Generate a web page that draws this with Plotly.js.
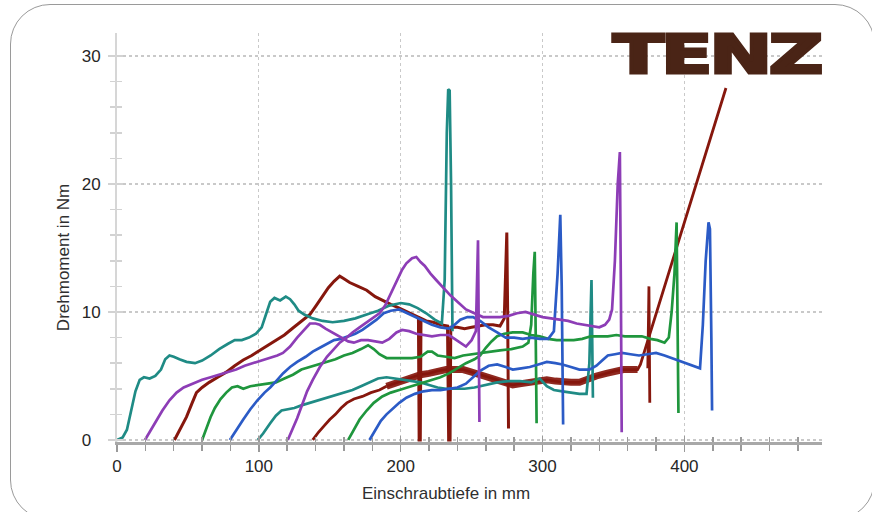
<!DOCTYPE html>
<html>
<head>
<meta charset="utf-8">
<script src="https://cdn.plot.ly/plotly-3.0.1.min.js"></script>
<style>
html,body{margin:0;padding:0;background:#fff;overflow:hidden;width:872px;height:512px;}
#chart{position:absolute;left:0;top:0;width:872px;height:512px;}
#frame{position:absolute;left:10px;top:4px;width:863px;height:514px;border:1.5px solid #9a9a9a;border-radius:40px;pointer-events:none;}
#logo{position:absolute;left:613px;top:28px;font-family:"DejaVu Sans";font-weight:bold;font-size:53px;line-height:53px;color:#4a2416;-webkit-text-stroke:3px #4a2416;transform:scaleX(1.41);transform-origin:0 0;letter-spacing:-2px;white-space:nowrap;}
</style>
</head>
<body>
<div id="chart"></div>
<div id="frame"></div>
<div id="logo">TENZ</div>
<script>
// Einschraubtiefe (mm) / Drehmoment (Nm)
const teal1_x = [0,4,7,10,13,16,19,23,27,31,34,37,40,44,49,55,60,66,72,78,83,88,93,98,102,105,108,111,115,119,122,125,128,132,138,145,152,160,168,176,184,192,200,206,212,218,224,229,231,232.5,233.5,234.5,235.5,236.5];
const teal1_y = [0,0.2,0.8,2.2,3.8,4.7,4.9,4.8,5.0,5.5,6.3,6.6,6.5,6.3,6.1,6.0,6.2,6.6,7.1,7.5,7.8,7.8,8.0,8.3,8.8,9.8,10.8,11.1,10.9,11.2,11.0,10.6,10.1,9.8,9.5,9.3,9.2,9.3,9.5,9.8,10.1,10.5,10.7,10.6,10.3,9.9,9.4,9.1,12.5,24,27.4,27.3,20,8.5];

const purple1_x = [19.7,24,28,32,37,42,47,53,60,66,72,78,84,90,96,102,108,113,117,122,127,132,136,140,143,147,152,158,163,167,172,177,182,187,192,197,201,206,211,217,222,228,234,238,242,246,250,253,254.5,255.5];
const purple1_y = [0,0.8,1.6,2.3,3.1,3.7,4.1,4.4,4.7,4.9,5.1,5.3,5.5,5.8,6.0,6.2,6.4,6.6,6.8,7.3,8.0,8.6,9.1,9.1,9.0,8.7,8.4,8.0,7.7,7.6,7.8,7.8,7.7,7.6,7.9,8.4,8.6,8.5,8.3,8.2,8.1,8.2,8.2,7.9,7.6,7.3,7.8,8.5,15.6,1.4];

const red1_x = [40.5,44,49,53,56,60,65,71,77,83,89,95,101,107,113,118,124,130,136,141,145,149,153,157,160,164,170,176,182,187,193,199,205,209,212.5,213,213.8,214.3,218,223,228,233,233.8,234.8,235.3,240,245,250,255,260,265,270,273,274.2,274.8,275.4,276];
const red1_y = [0,0.7,1.8,2.9,3.7,4.1,4.5,4.9,5.3,5.8,6.25,6.6,7.0,7.4,7.8,8.2,8.75,9.3,9.8,10.6,11.3,11.9,12.4,12.8,12.6,12.3,12.0,11.7,11.2,10.9,10.6,10.3,10.0,9.8,9.6,0,0,9.5,9.3,9.2,9.0,8.9,0,0,8.8,8.8,8.7,8.8,8.9,9.0,9.0,8.9,9.5,14,16.2,10,0.9];

const green1_x = [60,63,66,69,73,77,81,85,89,94,100,106,112,118,124,130,136,142,148,154,160,166,172,177,181,185,190,196,202,208,214,219,222,226,232,238,244,250,256,262,270,278,286,290,292,293.5,294.5,295.2,295.8];
const green1_y = [0,0.9,1.8,2.5,3.2,3.7,4.1,4.2,4.0,4.2,4.3,4.4,4.5,4.8,5.1,5.5,5.7,5.9,6.1,6.3,6.6,6.8,7.1,7.4,7.1,6.7,6.4,6.4,6.4,6.4,6.5,6.9,6.9,6.6,6.5,6.4,6.6,6.7,6.8,6.9,7.0,7.1,7.3,7.6,9,13,14.7,8,1.3];

const blue1_x = [79.6,84,89,94,99,104,108,113,117,122,127,133,138,143,148,153,158,163,168,173,178,183,188,193,199,205,211,217,222,228,234,238,242,247,251,256,262,268,274,280,286,292,298,304,308,310.6,312.5,313.5,314.5];
const blue1_y = [0,0.8,1.6,2.4,3.1,3.7,4.1,4.7,5.2,5.7,6.1,6.5,6.9,7.2,7.5,7.8,7.9,8.1,8.3,8.6,9.0,9.4,9.9,10.1,10.2,9.9,9.6,9.3,9.0,8.8,8.7,9.0,9.4,9.6,9.6,9.3,8.8,8.4,8.0,8.0,7.9,8.0,7.9,7.9,8.5,13,17.6,12,1.2];

const teal2_x = [99.3,103,108,112,116,120,125,130,136,142,148,154,160,166,172,178,184,190,196,202,208,214,220,226,232,238,245,252,260,268,276,284,292,298,303,308,314,320,326,331,333,334.5,335.5];
const teal2_y = [0,0.5,1.3,1.9,2.3,2.4,2.5,2.7,2.9,3.1,3.3,3.5,3.7,3.9,4.2,4.5,4.8,4.9,4.8,4.7,4.6,4.5,4.3,4.1,4.0,4.0,4.0,4.1,4.3,4.5,4.6,4.6,4.5,4.8,4.2,3.9,3.8,3.7,3.6,3.6,6,12.5,3.3];

const purple2_x = [120.4,124,127,130,134,138,143,148,153,157,162,166,171,176,181,185,189,192,195,198,201,204,208,211,214,217,221,225,230,235,240,246,252,258,264,270,276,282,288,294,300,306,312,318,324,330,336,340,344,347,349,351,353,354.5,355.2,355.8];
const purple2_y = [0,0.9,1.7,2.6,3.8,4.7,5.7,6.5,7.1,7.6,8.0,8.4,8.8,9.2,9.6,9.9,10.5,11.2,12.0,12.7,13.3,13.8,14.2,14.3,13.9,13.6,13.0,12.5,11.9,11.3,10.8,10.2,9.9,9.6,9.6,9.6,9.7,9.9,10.0,9.8,9.6,9.5,9.4,9.3,9.1,9.0,8.9,8.8,9.0,9.4,10.2,14,20,22.5,12,0.6];

const red2_x = [138,142,146,150,154,158,162,167,173,179,185,190,null,374.2,375.0,375.6];
const red2_y = [0,0.6,1.1,1.6,2.0,2.5,2.9,3.2,3.4,3.7,3.9,4.2,null,5.6,12.0,2.9];
const red2band_x = [190,197,203,208,214,220,226,232,238,244,250,256,262,268,274,279,285,291,297,303,309,314,320,326,332,338,345,351,357,363,367,369,429.3];
const red2band_y = [4.2,4.5,4.7,4.9,5.1,5.2,5.4,5.5,5.5,5.5,5.3,5.1,4.9,4.7,4.4,4.3,4.4,4.5,4.6,4.7,4.6,4.5,4.5,4.5,4.8,5.0,5.2,5.4,5.5,5.5,5.5,5.9,27.5];

const green2_x = [163,167,171,176,181,187,193,199,205,211,217,222.5,228,234,240,246,252,256,260,264,268,273,279,286,292,298,304,310,316,322,328,334,340,346,352,358,364,370,376,381,386,389,391,393,394.5,395.2,395.8];
const green2_y = [0,0.8,1.6,2.3,2.9,3.4,3.7,3.9,4.1,4.3,4.5,4.7,4.9,5.2,5.6,6.0,6.3,6.6,7.2,7.7,8.1,8.3,8.4,8.4,8.2,8.1,7.9,7.8,7.8,7.8,7.9,8.1,8.1,8.1,8.2,8.1,8.1,8.1,7.9,7.8,7.6,8.0,10,13,17.0,9,2.1];

const blue2_x = [178,182,186,190,194,199,204,210,216,222,228,234,240,246,251,256,262,268,274,279,285,291,297,303,309,314,320,326,333,338,342,346,351,356,362,368,374,380,386,391,397,403,408,411,413,415,417,418,419,419.5];
const blue2_y = [0,0.8,1.5,2.0,2.4,2.9,3.3,3.6,3.8,3.9,3.9,4.0,4.1,4.4,4.9,5.4,5.8,5.9,5.7,5.5,5.6,5.7,5.9,6.1,6.0,5.9,5.7,5.5,5.5,5.8,6.2,6.6,6.7,6.8,6.7,6.6,6.7,6.8,6.6,6.4,6.2,5.9,5.7,5.6,9,14,17.0,16.5,8,2.3];

const xTickVals = [0,100,200,300,400];
const xTickText = ['0','100','200','300','400'];
const yTickVals = [0,10,20,30];
const yTickText = ['0\u2007','10','20','30'];
const xTitle = 'Einschraubtiefe in mm';
const yTitle = 'Drehmoment in Nm';

const C = {teal:'#1f8b85', purple:'#8d3db6', red:'#86170d', green:'#1f963d', blue:'#2b5bc6'};
function tr(x, y, color, w){
  return {x:x, y:y, type:'scatter', mode:'lines', line:{color:color, width:w||2.7}, connectgaps:false, hoverinfo:'skip'};
}
const data = [
  tr(red2band_x, red2band_y, C.red, 2.8),
  Object.assign(tr(red2band_x.slice(0, 31), red2band_y.slice(0, 31), C.red, 7), {opacity:0.92}),
  tr(red2_x, red2_y, C.red, 2.8),
  tr(red1_x, red1_y, C.red, 3),
  tr(teal1_x, teal1_y, C.teal),
  tr(teal2_x, teal2_y, C.teal),
  tr(green1_x, green1_y, C.green),
  tr(green2_x, green2_y, C.green),
  tr(blue1_x, blue1_y, C.blue),
  tr(blue2_x, blue2_y, C.blue),
  tr(purple1_x, purple1_y, C.purple),
  tr(purple2_x, purple2_y, C.purple),
  {x:[], y:[], xaxis:'x2', yaxis:'y2', type:'scatter', mode:'lines', hoverinfo:'skip'}
];
const fontTick = {family:'"Liberation Sans", Arial, sans-serif', size:17, color:'#262626'};
const xr = [0, 497], yr = [-0.16, 31.8];
const layout = {
  width:872, height:512,
  margin:{l:117, r:50, t:33, b:70},
  paper_bgcolor:'rgba(0,0,0,0)', plot_bgcolor:'rgba(0,0,0,0)',
  showlegend:false,
  xaxis:{range:xr, tickmode:'array', tickvals:xTickVals, ticktext:xTickText, ticks:'outside', ticklen:7, tickwidth:1.5, tickcolor:'#9a9a9a',
         minor:{dtick:20, tick0:0, ticks:'outside', ticklen:6, tickwidth:1.5, tickcolor:'#9a9a9a', showgrid:false},
         showline:true, linecolor:'#a8a8a8', linewidth:3, showgrid:true, gridcolor:'#c9c9c9', griddash:'dot', gridwidth:1.2,
         zeroline:false, tickfont:fontTick, ticklabelstandoff:0, fixedrange:true},
  yaxis:{range:yr, tickmode:'array', tickvals:yTickVals, ticktext:yTickText, ticks:'outside', ticklen:7, tickwidth:1.5, tickcolor:'#d2d2d2',
         minor:{dtick:2, tick0:0, ticks:'outside', ticklen:5, tickwidth:1.5, tickcolor:'#d2d2d2', showgrid:false},
         showline:true, linecolor:'#d6d6d6', linewidth:2, showgrid:true, gridcolor:'#c9c9c9', griddash:'dot', gridwidth:1.2,
         zeroline:false, tickfont:fontTick, ticklabelstandoff:4, fixedrange:true},
  xaxis2:{overlaying:'x', anchor:'y2', side:'bottom', range:xr, tickmode:'array', tickvals:xTickVals, ticks:'inside', ticklen:6, tickwidth:1.5, tickcolor:'#9a9a9a',
          minor:{dtick:20, tick0:0, ticks:'inside', ticklen:5, tickwidth:1.5, tickcolor:'#9a9a9a', showgrid:false},
          showticklabels:false, showgrid:false, zeroline:false, showline:false, fixedrange:true},
  yaxis2:{overlaying:'y', anchor:'x2', side:'left', range:yr, tickmode:'array', tickvals:yTickVals, ticks:'inside', ticklen:6, tickwidth:1.5, tickcolor:'#d2d2d2',
          minor:{dtick:2, tick0:0, ticks:'inside', ticklen:5, tickwidth:1.5, tickcolor:'#d2d2d2', showgrid:false},
          showticklabels:false, showgrid:false, zeroline:false, showline:false, fixedrange:true},
  annotations:[
    {text:xTitle, xref:'paper', yref:'paper', x:0.466, y:-0.125, xanchor:'center', yanchor:'middle', showarrow:false,
     font:{family:'"Liberation Sans", Arial, sans-serif', size:17, color:'#2f2f2f'}},
    {text:yTitle, xref:'paper', yref:'paper', x:-0.0766, y:0.452, xanchor:'center', yanchor:'middle', showarrow:false, textangle:-90,
     font:{family:'"Liberation Sans", Arial, sans-serif', size:17, color:'#2f2f2f'}}
  ]
};
Plotly.newPlot('chart', data, layout, {displayModeBar:false, staticPlot:true});
</script>
</body>
</html>
